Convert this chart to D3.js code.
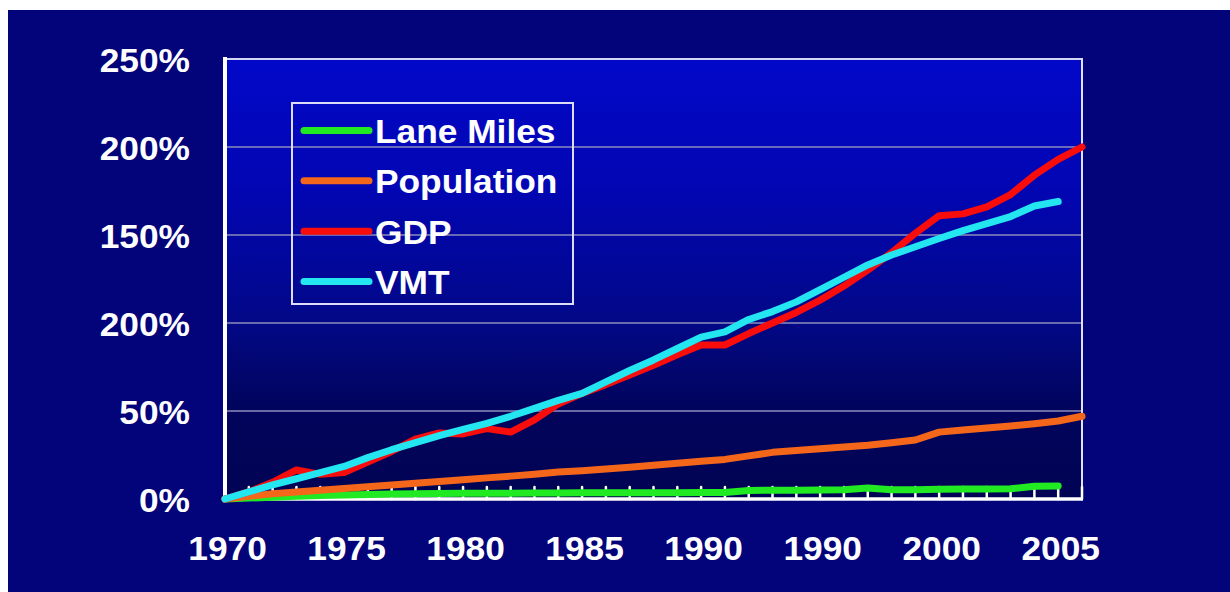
<!DOCTYPE html>
<html>
<head>
<meta charset="utf-8">
<script src="https://cdn.jsdelivr.net/npm/d3@7"></script>
<style>
  html, body { margin: 0; padding: 0; background: #ffffff; }
  svg { display: block; }
  text { font-family: "Liberation Sans", Arial, sans-serif; font-weight: bold; fill: #ffffff; }
</style>
</head>
<body>
<svg id="chart" width="1230" height="592"></svg>
<script>
// ---- data ----
const years = d3.range(1970, 2007); // 1970..2006
const gdp = [0, 4, 9.5, 16.5, 14, 15, 21, 27, 34, 37.5, 37, 40, 38, 45, 54, 60, 65, 70.5, 76, 82, 87.5, 87.5, 94, 100, 106, 113, 121, 130, 140, 151, 161, 162, 166, 173, 184, 193, 200];
const vmt = [0, 4, 8, 11.5, 15, 18.5, 23.5, 28, 32, 36, 39.5, 43, 47, 51.5, 56, 60, 66.5, 73, 79, 85.5, 92, 95, 102, 106.5, 112, 119, 126, 133, 138.6, 143.3, 148, 152.5, 156.5, 160.5, 166.5, 169];
const population = [0, 1.5, 3, 4, 5, 6, 7, 8, 9, 10, 11, 12, 13, 14, 15.3, 16, 17, 18, 19.2, 20.3, 21.4, 22.5, 24.5, 26.5, 27.5, 28.5, 29.5, 30.5, 32, 33.5, 38, 39.2, 40.3, 41.5, 42.8, 44.3, 47];
const laneMiles = [0, 0.5, 1, 1.5, 2, 2.3, 2.5, 2.8, 3, 3.1, 3.2, 3.3, 3.3, 3.4, 3.4, 3.5, 3.5, 3.6, 3.6, 3.6, 3.7, 3.7, 4.8, 5, 5, 5.1, 5.2, 6.2, 5.2, 5.2, 5.6, 5.7, 5.7, 5.8, 7.2, 7.4];

const seriesNames = ["Lane Miles", "Population", "GDP", "VMT"];
const seriesColors = ["#22ea22", "#f4661a", "#f80c0c", "#24e6f0"];

const yTickValues = [0, 50, 100, 150, 200, 250];
const yTickLabels = ["0%", "50%", "200%", "150%", "200%", "250%"];
const xLabelYears = [1970, 1975, 1980, 1985, 1990, 1995, 2000, 2005];
const xTickLabels = ["1970", "1975", "1980", "1985", "1990", "1990", "2000", "2005"];

// ---- layout ----
const svg = d3.select("#chart");
const plot = { left: 225, right: 1082, top: 59, bottom: 499 };

const x = d3.scaleLinear().domain([1970, 2006]).range([plot.left, plot.right]);
const y = d3.scaleLinear().domain([0, 250]).range([plot.bottom, plot.top]);

// outer background
svg.append("rect").attr("x", 8).attr("y", 10).attr("width", 1222).attr("height", 582).attr("fill", "#03037a");

// plot gradient
const defs = svg.append("defs");
const grad = defs.append("linearGradient").attr("id", "plotGrad")
  .attr("x1", 0).attr("y1", 0).attr("x2", 0).attr("y2", 1);
grad.append("stop").attr("offset", "0%").attr("stop-color", "#0208c8");
grad.append("stop").attr("offset", "30%").attr("stop-color", "#0206b2");
grad.append("stop").attr("offset", "60%").attr("stop-color", "#020886");
grad.append("stop").attr("offset", "80%").attr("stop-color", "#01045a");
grad.append("stop").attr("offset", "100%").attr("stop-color", "#010454");

svg.append("rect")
  .attr("x", plot.left).attr("y", plot.top)
  .attr("width", plot.right - plot.left).attr("height", plot.bottom - plot.top)
  .attr("fill", "url(#plotGrad)");

// gridlines
svg.append("g").selectAll("line")
  .data(yTickValues.filter(v => v > 0 && v < 250))
  .join("line")
  .attr("x1", plot.left).attr("x2", plot.right)
  .attr("y1", d => y(d)).attr("y2", d => y(d))
  .attr("stroke", "#8c8cbc").attr("stroke-width", 1.6);

// top and right border
svg.append("line").attr("x1", plot.left).attr("x2", plot.right + 1)
  .attr("y1", y(250)).attr("y2", y(250))
  .attr("stroke", "#d4d4f4").attr("stroke-width", 2);
svg.append("line").attr("x1", plot.right).attr("x2", plot.right)
  .attr("y1", y(250)).attr("y2", y(0))
  .attr("stroke", "#e0e0f8").attr("stroke-width", 2);

// minor year ticks
svg.append("g").selectAll("line")
  .data(years.slice(1))
  .join("line")
  .attr("x1", d => x(d)).attr("x2", d => x(d))
  .attr("y1", y(0)).attr("y2", y(0) - 12)
  .attr("stroke", "#ffffff").attr("stroke-width", 2.5)
  .attr("stroke-linecap", "round");

// axes lines
svg.append("line").attr("x1", plot.left).attr("x2", plot.left)
  .attr("y1", y(250) - 2).attr("y2", y(0) + 2)
  .attr("stroke", "#ffffff").attr("stroke-width", 4);
svg.append("line").attr("x1", plot.left).attr("x2", plot.right + 1)
  .attr("y1", y(0)).attr("y2", y(0))
  .attr("stroke", "#ffffff").attr("stroke-width", 3.5);

// series lines
const seriesData = [laneMiles, population, gdp, vmt];
const line = d3.line()
  .x((d, i) => x(years[i]))
  .y(d => y(d));

svg.append("g").selectAll("path")
  .data(seriesData)
  .join("path")
  .attr("d", d => line(d))
  .attr("fill", "none")
  .attr("stroke", (d, i) => seriesColors[i])
  .attr("stroke-width", 7)
  .attr("stroke-linejoin", "round")
  .attr("stroke-linecap", "round");

// y axis labels
const yAxis = d3.axisLeft(y).tickValues(yTickValues)
  .tickFormat((d, i) => yTickLabels[i]).tickSize(0).tickPadding(0);
const gy = svg.append("g").attr("transform", `translate(190,2)`).call(yAxis);
gy.select(".domain").remove();
gy.selectAll("text")
  .attr("x", 0)
  .attr("fill", "#ffffff")
  .style("font-size", "33px")
  .style("font-family", "'Liberation Sans', Arial, sans-serif")
  .style("font-weight", "bold")
  .attr("transform", "scale(1.07,1)");

// x axis labels
const xAxis = d3.axisBottom(x).tickValues(xLabelYears)
  .tickFormat((d, i) => xTickLabels[i]).tickSize(0).tickPadding(0);
const gx = svg.append("g").attr("transform", `translate(2,536)`).call(xAxis);
gx.select(".domain").remove();
gx.selectAll("text")
  .attr("y", 0).attr("dy", "0.72em")
  .attr("fill", "#ffffff")
  .style("font-size", "33px")
  .style("font-family", "'Liberation Sans', Arial, sans-serif")
  .style("font-weight", "bold")
  .attr("transform", "scale(1.07,1)");

// legend
const legendY = d3.scalePoint().domain(seriesNames).range([143, 294]);
const legend = svg.append("g");
legend.append("rect")
  .attr("x", 292).attr("y", 103).attr("width", 281).attr("height", 201)
  .attr("fill", "none").attr("stroke", "#dcdcf8").attr("stroke-width", 2);
const items = legend.selectAll("g.item").data(seriesNames).join("g").attr("class", "item");
items.append("line")
  .attr("x1", 304).attr("x2", 369)
  .attr("y1", d => legendY(d) - 12.5).attr("y2", d => legendY(d) - 12.5)
  .attr("stroke", (d, i) => seriesColors[i])
  .attr("stroke-width", 7).attr("stroke-linecap", "round");
items.append("text")
  .attr("transform", d => `translate(375,${legendY(d)}) scale(1.07,1)`)
  .style("font-size", "33px")
  .text(d => d);
</script>
</body>
</html>
